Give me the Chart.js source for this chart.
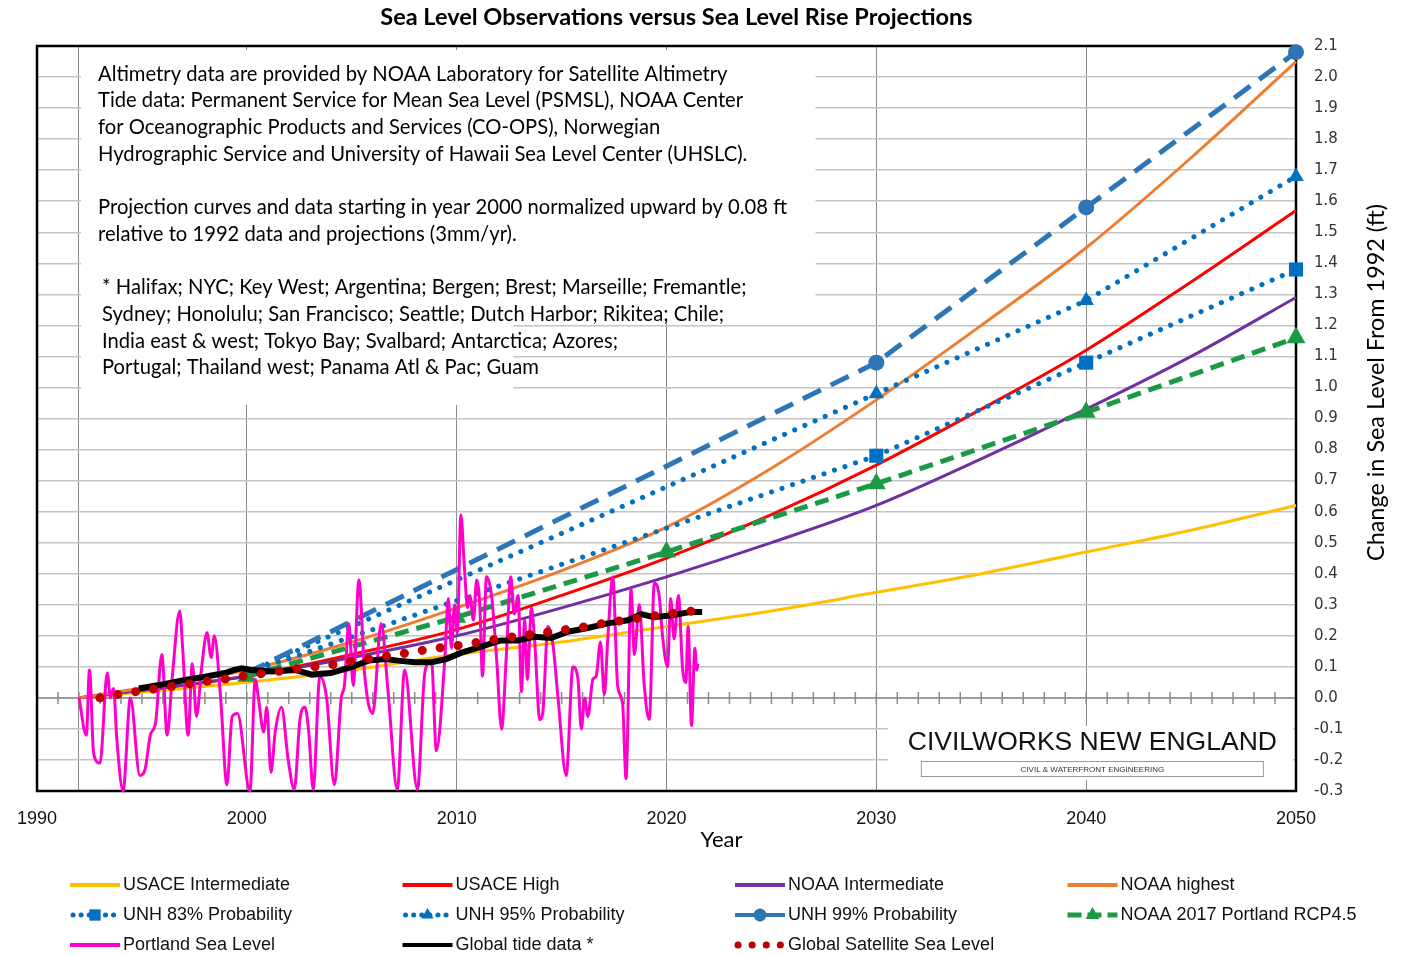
<!DOCTYPE html>
<html>
<head>
<meta charset="utf-8">
<title>Sea Level Observations versus Sea Level Rise Projections</title>
<script src="https://cdn.jsdelivr.net/npm/chart.js@4.4.1/dist/chart.umd.min.js"></script>
<style>
  html, body { margin: 0; padding: 0; background: #fff; }
</style>
</head>
<body>
<canvas id="myChart" width="1402" height="955"></canvas>
<script>
// Projection curves (ft above 1992)
const projYears = [1992, 2000, 2005, 2010, 2015, 2020, 2025, 2030, 2035, 2040, 2045, 2050];
const usaceInt  = [0, 0.05, 0.09, 0.14, 0.18, 0.23, 0.28, 0.34, 0.40, 0.47, 0.54, 0.62];
const usaceHigh = [0, 0.07, 0.14, 0.22, 0.33, 0.45, 0.59, 0.75, 0.93, 1.12, 1.34, 1.57];
const noaaInt   = [0, 0.07, 0.13, 0.20, 0.29, 0.39, 0.50, 0.62, 0.77, 0.93, 1.10, 1.29];
const noaaHigh  = [0, 0.09, 0.18, 0.29, 0.41, 0.55, 0.74, 0.96, 1.20, 1.45, 1.74, 2.05];

// UNH probabilities
const unhYears = [2000, 2030, 2040, 2050];
const unh83 = [0.08, 0.78, 1.08, 1.38];
const unh95 = [0.08, 0.98, 1.28, 1.68];
const unh99 = [0.08, 1.08, 1.58, 2.08];

// NOAA 2017 Portland RCP4.5
const noaa17Years = [2000, 2010, 2020, 2030, 2040, 2050];
const noaa17 = [0.07, 0.26, 0.47, 0.69, 0.92, 1.16];

// Portland Sea Level (observed)
const portlandYears = [1992.0, 1992.35, 1992.5, 1992.7, 1993.0, 1993.35, 1993.5, 1993.65, 1993.8, 1994.1,
  1994.45, 1994.9, 1995.15, 1995.4, 1995.65, 1995.95, 1996.2, 1996.45, 1996.8, 1996.95,
  1997.2, 1997.4, 1997.6, 1997.85, 1998.1, 1998.3, 1998.45, 1998.75, 1999.05, 1999.3,
  1999.55, 2000.15, 2000.4, 2000.55, 2000.8, 2000.95, 2001.15, 2001.35, 2001.65, 2001.97,
  2002.26, 2002.53, 2002.77, 2002.95, 2003.16, 2003.48, 2003.8, 2004.17, 2004.5, 2004.65,
  2004.86, 2005.07, 2005.34, 2005.62, 2006.0, 2006.4, 2006.73, 2007.17, 2007.52, 2008.13,
  2008.48, 2008.8, 2009.03, 2009.43, 2009.6, 2009.75, 2009.9, 2010.03, 2010.2, 2010.36,
  2010.52, 2010.63, 2010.8, 2010.95, 2011.1, 2011.23, 2011.42, 2011.66, 2011.9, 2012.14,
  2012.37, 2012.58, 2012.74, 2012.93, 2013.09, 2013.24, 2013.37, 2013.56, 2013.72, 2013.96,
  2014.1, 2014.35, 2014.59, 2014.83, 2015.22, 2015.54, 2015.78, 2015.94, 2016.1, 2016.25,
  2016.49, 2016.65, 2016.85, 2017.04, 2017.2, 2017.44, 2017.67, 2017.91, 2018.07, 2018.31,
  2018.47, 2018.7, 2018.94, 2019.18, 2019.42, 2019.65, 2019.81, 2020.05, 2020.2, 2020.36,
  2020.57, 2020.76, 2020.92, 2021.03, 2021.19, 2021.35, 2021.44, 2021.5];
const portlandLevels = [0.00, -0.12, 0.09, -0.18, -0.21, 0.08, 0.00, 0.03, -0.13, -0.30,
  0.00, -0.25, -0.23, -0.12, -0.08, 0.14, -0.12, 0.07, 0.28, 0.15,
  -0.12, 0.11, -0.06, 0.10, 0.21, 0.13, 0.20, 0.00, -0.28, -0.06,
  -0.05, -0.30, 0.06, 0.00, -0.11, -0.03, -0.24, -0.11, -0.03, -0.20,
  -0.295, -0.07, -0.03, -0.11, -0.295, 0.07, 0.00, -0.28, 0.00, 0.04,
  0.24, 0.04, 0.38, 0.07, -0.05, 0.24, 0.02, -0.295, 0.09, -0.295,
  0.08, 0.12, -0.17, 0.12, 0.32, 0.16, 0.30, 0.21, 0.59, 0.43,
  0.29, 0.33, 0.25, 0.38, 0.30, 0.07, 0.39, 0.33, 0.13, -0.10,
  0.14, 0.39, 0.27, 0.33, 0.02, 0.25, 0.06, 0.29, 0.18, -0.07,
  -0.05, 0.23, 0.17, 0.00, -0.25, 0.10, 0.06, -0.10, 0.00, -0.06,
  0.06, 0.07, 0.18, 0.01, 0.19, 0.39, 0.04, -0.02, -0.26, 0.35,
  0.14, 0.30, 0.04, -0.07, 0.37, 0.33, 0.20, 0.10, 0.32, 0.19,
  0.33, 0.10, 0.05, 0.23, -0.09, 0.16, 0.09, 0.11];

// Global tide data *
const tideYears = [1994.85, 1996.1, 1997.05, 1998.0, 1998.95, 1999.4, 1999.75, 2000.2, 2001.2, 2002.3,
  2003.1, 2004.0, 2005.0, 2005.8, 2006.6, 2007.2, 2008.0, 2008.8, 2009.5, 2010.2,
  2011.17, 2012.1, 2012.9, 2013.7, 2014.5, 2015.3, 2016.25, 2017.2, 2018.15, 2018.8,
  2019.4, 2020.35, 2021.16, 2021.7];
const tideLevels = [0.03, 0.045, 0.058, 0.068, 0.08, 0.09, 0.095, 0.09, 0.085, 0.09,
  0.075, 0.08, 0.10, 0.12, 0.125, 0.12, 0.115, 0.115, 0.125, 0.145,
  0.165, 0.185, 0.185, 0.197, 0.193, 0.213, 0.225, 0.24, 0.25, 0.27,
  0.26, 0.267, 0.277, 0.277];

// Global Satellite Sea Level
const satYears = [1993, 1994, 1995, 1996, 1997, 1998, 1999, 2000, 2001, 2002, 2003, 2004, 2005, 2006, 2007,
  2008, 2009, 2010, 2011, 2012, 2013, 2014, 2015, 2016, 2017, 2018, 2019, 2020, 2021.3];
const satLevels = [0.0, 0.013, 0.023, 0.033, 0.043, 0.053, 0.061, 0.072, 0.081, 0.09, 0.099, 0.106, 0.118, 0.128, 0.138,
  0.149, 0.16, 0.168, 0.179, 0.19, 0.2, 0.208, 0.218, 0.228, 0.24, 0.25, 0.26, 0.27, 0.28];

const xTickValues = [1990, 1992, 2000, 2010, 2020, 2030, 2040, 2050];

const noteLines = [
  'Altimetry data are provided by NOAA Laboratory for Satellite Altimetry',
  'Tide data: Permanent Service for Mean Sea Level (PSMSL), NOAA Center',
  'for Oceanographic Products and Services (CO-OPS), Norwegian',
  'Hydrographic Service and University of Hawaii Sea Level Center (UHSLC).',
  '',
  'Projection curves and data starting in year 2000 normalized upward by 0.08 ft',
  'relative to 1992 data and projections (3mm/yr).',
  '',
  '* Halifax; NYC; Key West; Argentina; Bergen; Brest; Marseille; Fremantle;',
  'Sydney; Honolulu; San Francisco; Seattle; Dutch Harbor; Rikitea; Chile;',
  'India east & west; Tokyo Bay; Svalbard; Antarctica; Azores;',
  'Portugal; Thailand west; Panama Atl & Pac; Guam'
];

function pts(xs, ys) {
  return xs.map((x, i) => ({ x: x, y: ys[i] }));
}

// markers only on the projection years
function unhRadius(r) {
  return ctx => (unhYears[ctx.dataIndex] >= 2030 ? r : 0);
}

const datasets = [
  { label: 'USACE Intermediate', data: pts(projYears, usaceInt), borderColor: '#FFC000', borderWidth: 3,
    cubicInterpolationMode: 'monotone', pointRadius: 0, order: 10 },
  { label: 'USACE High', data: pts(projYears, usaceHigh), borderColor: '#FF0000', borderWidth: 3,
    cubicInterpolationMode: 'monotone', pointRadius: 0, order: 9 },
  { label: 'NOAA Intermediate', data: pts(projYears, noaaInt), borderColor: '#7030A0', borderWidth: 3,
    cubicInterpolationMode: 'monotone', pointRadius: 0, order: 8 },
  { label: 'NOAA highest', data: pts(projYears, noaaHigh), borderColor: '#ED7D31', borderWidth: 3,
    cubicInterpolationMode: 'monotone', pointRadius: 0, order: 7 },
  { label: 'UNH 83% Probability', data: pts(unhYears, unh83), borderColor: '#0070C0', backgroundColor: '#0070C0',
    borderWidth: 5, borderDash: [0.1, 11], borderCapStyle: 'round', pointStyle: 'rect',
    pointRadius: unhRadius(10), pointBorderWidth: 0, order: 6,
    legendDash: [0.1, 8], legendWidth: 5, legendRadius: 8 },
  { label: 'UNH 95% Probability', data: pts(unhYears, unh95), borderColor: '#0070C0', backgroundColor: '#0070C0',
    borderWidth: 5, borderDash: [0.1, 11], borderCapStyle: 'round', pointStyle: 'triangle',
    pointRadius: unhRadius(9), pointBorderWidth: 0, order: 5,
    legendDash: [0.1, 8], legendWidth: 5, legendRadius: 7 },
  { label: 'UNH 99% Probability', data: pts(unhYears, unh99), borderColor: '#2E75B6', backgroundColor: '#2E75B6',
    borderWidth: 5, borderDash: [20, 11], pointStyle: 'circle',
    pointRadius: unhRadius(8), pointBorderWidth: 0, order: 4,
    legendDash: [], legendWidth: 4, legendRadius: 6.5 },
  { label: 'NOAA 2017 Portland RCP4.5', data: pts(noaa17Years, noaa17), borderColor: '#1A9A45', backgroundColor: '#1A9A45',
    borderWidth: 5, borderDash: [14, 8], pointStyle: 'triangle', pointRadius: 11, pointBorderWidth: 0, order: 3,
    legendDash: [14, 6], legendWidth: 5, legendRadius: 8 },
  { label: 'Portland Sea Level', data: pts(portlandYears, portlandLevels), borderColor: '#FF00CC', borderWidth: 3,
    cubicInterpolationMode: 'monotone', pointRadius: 0, order: 2 },
  { label: 'Global tide data *', data: pts(tideYears, tideLevels), borderColor: '#000000', borderWidth: 6,
    pointRadius: 0, order: 1 },
  { label: 'Global Satellite Sea Level', data: pts(satYears, satLevels), borderColor: '#C00000', borderWidth: 9,
    borderDash: [0.1, 18], borderCapStyle: 'round', pointRadius: 0, order: 0,
    legendDash: [0.1, 14], legendWidth: 7 }
];

// boxes, borders and texts that are not part of Chart.js itself
const decor = {
  id: 'decor',
  beforeDatasetsDraw(chart) {
    const { ctx, chartArea: a, scales: { x, y } } = chart;
    ctx.save();

    // zero line with a tick for every year
    const y0 = y.getPixelForValue(0);
    ctx.strokeStyle = '#8c8c8c';
    ctx.lineWidth = 1.5;
    ctx.beginPath();
    ctx.moveTo(a.left, y0);
    ctx.lineTo(a.right, y0);
    for (let yr = x.min + 1; yr < x.max; yr++) {
      const px = x.getPixelForValue(yr);
      ctx.moveTo(px, y0 - 6);
      ctx.lineTo(px, y0 + 6);
    }
    ctx.stroke();

    const rect = (x1, x2, y1, y2) => {
      const l = x.getPixelForValue(x1), r = x.getPixelForValue(x2);
      const t = y.getPixelForValue(y1), b = y.getPixelForValue(y2);
      ctx.fillRect(l, t, r - l, b - t);
    };

    // note box
    ctx.fillStyle = '#fff';
    rect(1992.1, 2027.1, 2.087, 1.224);
    rect(1992.1, 2012.7, 1.224, 0.944);

    ctx.fillStyle = '#000';
    ctx.font = '20.2px Lato';
    ctx.textBaseline = 'middle';
    ctx.textAlign = 'left';
    noteLines.forEach((line, i) => {
      const indent = i >= 8 ? 4 : 0;
      ctx.fillText(line, a.left + 61 + indent, a.top + 28 + i * 26.7);
    });

    // logo box
    ctx.fillStyle = '#fff';
    rect(2030.55, 2049.85, -0.09, -0.265);
    const cx = (x.getPixelForValue(2030.55) + x.getPixelForValue(2049.85)) / 2 + 2;
    ctx.fillStyle = '#111';
    ctx.textAlign = 'center';
    ctx.font = '26.5px "Liberation Sans"';
    ctx.fillText('CIVILWORKS NEW ENGLAND', cx, y.getPixelForValue(-0.145));
    ctx.strokeStyle = '#9a9a9a';
    ctx.lineWidth = 1;
    ctx.strokeRect(cx - 171, y.getPixelForValue(-0.205), 342, 15);
    ctx.font = '8px "Liberation Sans"';
    ctx.fillStyle = '#333';
    ctx.fillText('CIVIL & WATERFRONT ENGINEERING', cx, y.getPixelForValue(-0.205) + 8);

    // plot frame
    ctx.strokeStyle = '#000';
    ctx.lineWidth = 2.5;
    ctx.strokeRect(a.left, a.top, a.right - a.left, a.bottom - a.top);
    ctx.restore();
  },
  afterDraw(chart) {
    const { ctx, chartArea: a } = chart;
    ctx.save();
    ctx.fillStyle = '#000';
    ctx.textAlign = 'center';
    ctx.textBaseline = 'middle';

    // title
    ctx.font = 'bold 23.5px Lato';
    ctx.fillText('Sea Level Observations versus Sea Level Rise Projections', (a.left + a.right) / 2 + 10, 17);

    // x axis title
    ctx.font = '22px Lato';
    ctx.fillText('Year', (a.left + a.right) / 2 + 55, a.bottom + 49);

    // y axis title, reading upward
    ctx.save();
    ctx.translate(a.right + 80, (a.top + a.bottom) / 2 - 36);
    ctx.rotate(-Math.PI / 2);
    ctx.font = '23.4px Lato';
    ctx.fillText('Change in Sea Level From 1992 (ft)', 0, 0);
    ctx.restore();

    // legend, 4 columns
    chart.data.datasets.forEach((ds, i) => {
      const col = i % 4, row = Math.floor(i / 4);
      const x0 = 70 + col * 332.5;
      const yy = a.bottom + 94 + row * 30;
      ctx.save();
      ctx.strokeStyle = ds.borderColor;
      ctx.lineWidth = ds.legendWidth || 4;
      ctx.setLineDash(ds.legendDash || []);
      ctx.lineCap = ds.borderCapStyle || 'butt';
      ctx.beginPath();
      ctx.moveTo(x0 + (ds.legendDash && ds.legendDash[0] < 1 ? 3 : 0), yy);
      ctx.lineTo(x0 + 50, yy);
      ctx.stroke();
      if (ds.legendRadius) {
        ctx.setLineDash([]);
        ctx.fillStyle = ds.borderColor;
        Chart.helpers.drawPoint(ctx, { pointStyle: ds.pointStyle, radius: ds.legendRadius, borderWidth: 0, rotation: 0 }, x0 + 25, yy);
      }
      ctx.restore();
      ctx.fillStyle = '#111';
      ctx.textAlign = 'left';
      ctx.font = '18px "Liberation Sans"';
      ctx.fillText(ds.label, x0 + 53, yy);
    });
    ctx.restore();
  }
};

const ctx = document.getElementById('myChart').getContext('2d');
const myChart = new Chart(ctx, {
  type: 'line',
  data: { datasets: datasets },
  plugins: [decor],
  options: {
    responsive: false,
    animation: false,
    clip: false,
    layout: { padding: { left: 35, right: 0, top: 46, bottom: 104 } },
    plugins: { legend: { display: false }, tooltip: { enabled: false }, title: { display: false } },
    scales: {
      x: {
        type: 'linear',
        min: 1990,
        max: 2050,
        afterBuildTicks: scale => { scale.ticks = xTickValues.map(v => ({ value: v })); },
        afterFit: scale => { scale.height = 60; },
        grid: { color: '#8a8a8a', lineWidth: 1, drawTicks: false },
        border: { display: false },
        ticks: {
          padding: 17,
          maxRotation: 0,
          autoSkip: false,
          color: '#111',
          font: { family: 'Liberation Sans', size: 18 },
          callback: v => (v === 1992 ? '' : v)
        }
      },
      y: {
        position: 'right',
        min: -0.3,
        max: 2.1,
        afterFit: scale => { scale.width = 106; },
        grid: { color: '#c4c4c4', lineWidth: 1.5, drawTicks: false },
        border: { display: false },
        ticks: {
          stepSize: 0.1,
          padding: 18,
          color: '#333',
          font: { family: 'DejaVu Sans', size: 15 },
          callback: v => v.toFixed(1)
        }
      }
    }
  }
});
</script>
</body>
</html>
